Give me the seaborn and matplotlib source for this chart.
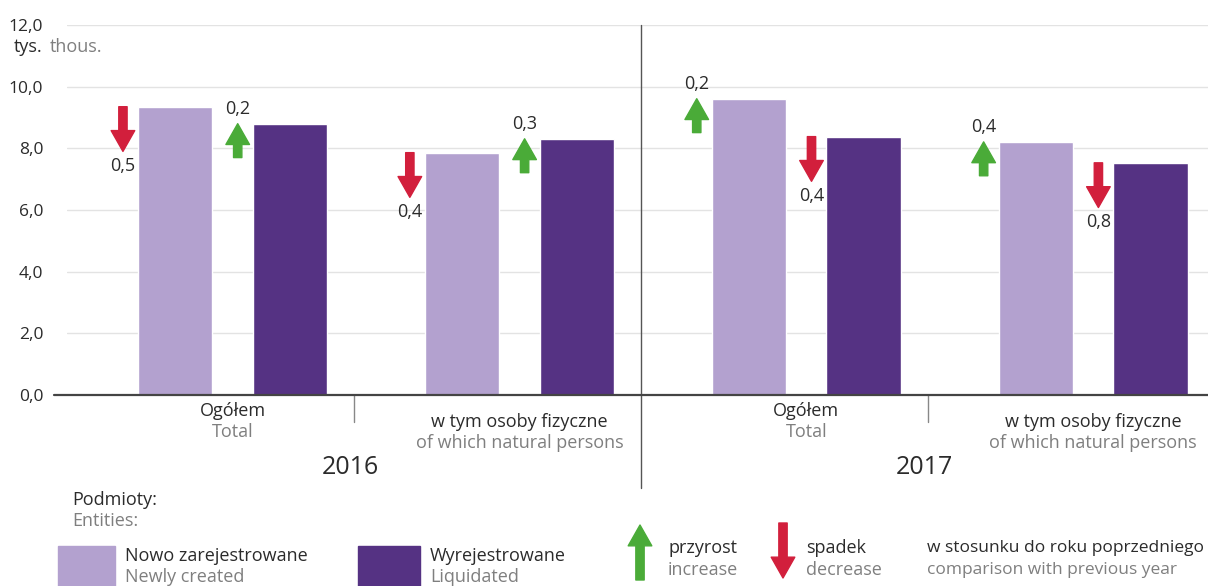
import numpy as np
import pandas as pd
import seaborn as sns
import matplotlib.pyplot as plt
from matplotlib.patches import Rectangle

sns.set_theme(style="white")
plt.rcParams["font.family"] = ["Open Sans", "DejaVu Sans"]

# data (thousands of entities)
years = ["2016", "2017"]
groups_pl = ["Ogółem", "w tym osoby fizyczne"]
groups_en = ["Total", "of which natural persons"]
newly_created = [9.35, 7.86, 9.61, 8.21]
liquidated = [8.80, 8.31, 8.38, 7.53]
change_new = [-0.5, -0.4, 0.2, 0.4]
change_liq = [0.2, 0.3, -0.4, -0.8]
entities = ["Nowo zarejestrowane", "Wyrejestrowane"]

LIGHT = "#b3a1cf"
DARK = "#553283"
RED = "#d21f3c"
GREEN = "#4aab38"
GRAY = "#7f7f7f"
BLACK = "#2b2b2b"
W, H = 1208, 586
FS = 13


def fx(x):
    return x / W


def fy(y):
    return 1 - y / H


def arrow(ax, x, y_tail, y_tip, color, coords="data"):
    ax.annotate("", xy=(x, y_tip), xytext=(x, y_tail),
                xycoords=coords, textcoords=coords,
                arrowprops=dict(arrowstyle="simple,head_length=0.75,"
                                "head_width=0.85,tail_width=0.3",
                                color=color, shrinkA=0, shrinkB=0,
                                mutation_scale=20),
                annotation_clip=False)


def fmt(v):
    return f"{abs(v):.1f}".replace(".", ",")


keys = [f"{y}_{g}" for y in years for g in range(len(groups_pl))]
df = pd.DataFrame({
    "group": keys * 2,
    "entity": [entities[0]] * 4 + [entities[1]] * 4,
    "value": newly_created + liquidated,
})

fig = plt.figure(figsize=(W / 100, H / 100), dpi=100)
ax = fig.add_axes([fx(67), fy(395), 1 - fx(67), 370 / H])

sns.barplot(data=df, x="group", y="value", hue="entity", order=keys,
            palette=[LIGHT, DARK], saturation=1, width=0.8, gap=0.35,
            legend=False, ax=ax)

ax.set_ylim(0, 12)
ax.set_xlim(-0.577, 3.40)
ax.set_yticks(np.arange(0, 13, 2))
ax.set_yticklabels([f"{v:.1f}".replace(".", ",") for v in np.arange(0, 13, 2)])
ax.tick_params(axis="y", length=0, pad=17, labelsize=12.5, labelcolor=BLACK)
ax.set_xticks([])
ax.set_xlabel("")
ax.set_ylabel("")
ax.yaxis.grid(True, color="#e3e3e3", lw=1)
ax.xaxis.grid(False)
ax.set_axisbelow(True)
for s in ax.spines.values():
    s.set_visible(False)

trans = ax.get_xaxis_transform()
ax.plot([-0.011, 1], [0, 0], transform=ax.transAxes, color="#444444",
        lw=1.6, clip_on=False, zorder=5)
for xs in [0.423, 2.423]:
    ax.plot([xs, xs], [0, -0.073], transform=trans, color="#888888",
            lw=1, clip_on=False)
ax.plot([1.423, 1.423], [1, -0.251], transform=trans, color="#555555",
        lw=1, clip_on=False)

# change arrows next to each bar
changes = [change_new, change_liq]
for cont, ch in zip(ax.containers, changes):
    for bar, c in zip(cont, ch):
        x = bar.get_x() - 0.052
        top = bar.get_height()
        if c < 0:
            arrow(ax, x, top, top - 1.45, RED)
            ax.annotate(fmt(c), (x, top - 1.45), xytext=(0, -4),
                        textcoords="offset points", ha="center", va="top",
                        fontsize=FS, color=BLACK)
        else:
            arrow(ax, x, top - 1.1, top, GREEN)
            ax.annotate(fmt(c), (x, top), xytext=(0, 4),
                        textcoords="offset points", ha="center",
                        va="bottom", fontsize=FS, color=BLACK)

# category and year labels
for i, key in enumerate(keys):
    g = i % 2
    dy = 0 if g == 0 else -0.03
    ax.text(i, -0.043 + dy, groups_pl[g], transform=trans, ha="center",
            va="center", fontsize=FS, color=BLACK)
    ax.text(i, -0.1 + dy, groups_en[g], transform=trans, ha="center",
            va="center", fontsize=FS, color=GRAY)
for j, yr in enumerate(years):
    ax.text(2 * j + 0.41, -0.197, yr, transform=trans, ha="center",
            va="center", fontsize=18, color=BLACK)

fig.text(fx(14), fy(47), "tys.", fontsize=FS, color=BLACK, va="center")
fig.text(fx(50), fy(47), "thous.", fontsize=FS, color=GRAY, va="center")

# legend
fig.text(fx(72), fy(500), "Podmioty:", fontsize=FS, color=BLACK,
         va="center")
fig.text(fx(72), fy(521), "Entities:", fontsize=FS, color=GRAY, va="center")
for x0, x1, col, pl, en in [(58, 115, LIGHT, entities[0], "Newly created"),
                            (358, 420, DARK, entities[1], "Liquidated")]:
    fig.patches.append(Rectangle((fx(x0), 0), fx(x1 - x0), fy(546),
                                 transform=fig.transFigure, color=col))
    fig.text(fx(x1 + 10), fy(556), pl, fontsize=FS, color=BLACK,
             va="center")
    fig.text(fx(x1 + 10), fy(577), en, fontsize=FS, color=GRAY, va="center")

arrow(ax, fx(640), fy(580), fy(525), GREEN, coords="figure fraction")
arrow(ax, fx(783), fy(523), fy(578), RED, coords="figure fraction")
for x, pl, en in [(668, "przyrost", "increase"),
                  (806, "spadek", "decrease")]:
    fig.text(fx(x), fy(548), pl, fontsize=FS, color=BLACK, va="center")
    fig.text(fx(x), fy(570), en, fontsize=FS, color=GRAY, va="center")
fig.text(fx(927), fy(548), "w stosunku do roku poprzedniego", fontsize=12.5,
         color=BLACK, va="center")
fig.text(fx(927), fy(570), "comparison with previous year", fontsize=12.5,
         color=GRAY, va="center")

fig.savefig("out.png", dpi=100)
